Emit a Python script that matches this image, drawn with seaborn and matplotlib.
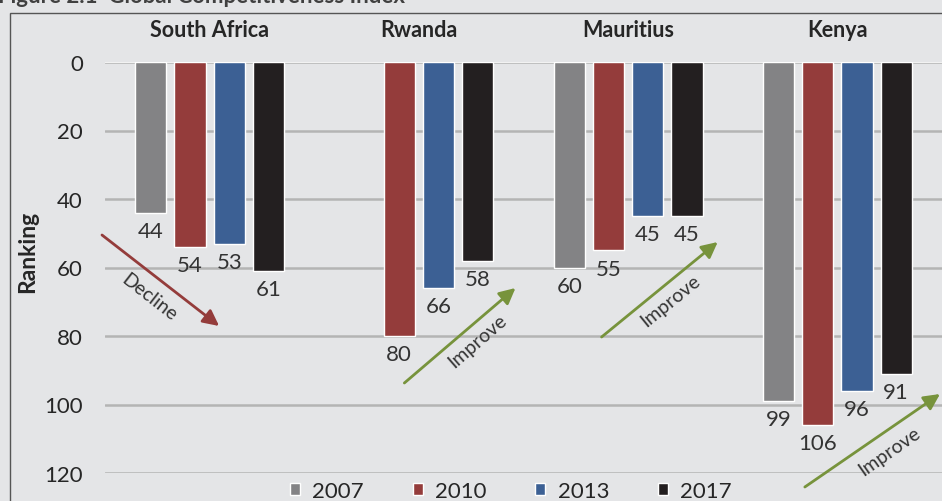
import pandas as pd
import matplotlib.pyplot as plt
from matplotlib.patches import Rectangle
import seaborn as sns

# Global Competitiveness Index ranking (lower = better)
countries = ["South Africa", "Rwanda", "Mauritius", "Kenya"]
years = ["2007", "2010", "2013", "2017"]
rank_2007 = [44, None, 60, 99]
rank_2010 = [54, 80, 55, 106]
rank_2013 = [53, 66, 45, 96]
rank_2017 = [61, 58, 45, 91]
y_ticks = [0, 20, 40, 60, 80, 100, 120]
colors = ["#838385", "#943c3b", "#3c6094", "#231f20"]

W, H = 942, 502
BG = "#e4e5e7"


def px(x, y):
    # image pixel -> data coords (category centres 209 px apart, 3.425 px per rank)
    return (x - 210.5) / 209.0, (y - 63) / 3.425


def style():
    sns.set_theme(style="white")
    plt.rcParams['font.family'] = ['Lato', 'DejaVu Sans']
    plt.rcParams['text.color'] = '#262626'


def get_df():
    rows = []
    for yr, vals in zip(years, [rank_2007, rank_2010, rank_2013, rank_2017]):
        for c, v in zip(countries, vals):
            rows.append({"country": c, "year": yr, "rank": v})
    return pd.DataFrame(rows).dropna()


style()
df = get_df()

fig = plt.figure(figsize=(W / 100, H / 100), dpi=100, facecolor=BG)
ax = fig.add_axes([105 / W, 1 - 474 / H, 1 - 105 / W, (474 - 63) / H])
ax.set_facecolor(BG)

sns.barplot(data=df, x="country", y="rank", hue="year", order=countries,
            hue_order=years, palette=colors, width=0.75, gap=0.2,
            saturation=1, ax=ax, zorder=3)

ax.set_xlim(-0.5, 3.5)
ax.set_ylim(120, 0)
ax.set_yticks(y_ticks)
ax.grid(axis='y', color='#b4b4b4', lw=1.8, zorder=0)
ax.axhline(0, color='white', lw=1.2, zorder=1)
for s in ax.spines.values():
    s.set_visible(False)

ax.xaxis.tick_top()
ax.tick_params(axis='x', length=0, pad=16, labelsize=15.5)
for t in ax.get_xticklabels():
    t.set_fontweight('bold')
ax.tick_params(axis='y', length=0, pad=16, labelsize=16)
ax.set_xlabel("")
ax.set_ylabel("Ranking", fontsize=16.5, fontweight='bold')
ax.yaxis.set_label_coords(-0.08, 0.54)

for cont in ax.containers:
    ax.bar_label(cont, fmt="%d", padding=6, fontsize=16, color='#333333')

# legend at the bottom
handles, labels = ax.get_legend_handles_labels()
ax.get_legend().remove()
fig.legend(handles, labels, loc='center', bbox_to_anchor=(511 / W, 1 - 492 / H),
           ncol=4, frameon=False, fontsize=16, handlelength=0.45, handleheight=0.45,
           handletextpad=0.55, columnspacing=2.2)

# trend arrows
arrows = [
    ((103, 236), (220, 327), (150, 298), "Decline", -38, "#943c3b"),
    ((405, 384), (516, 289), (478, 341), "Improve", 41, "#77933c"),
    ((602, 338), (718, 243), (671, 301), "Improve", 39, "#77933c"),
    ((805, 488), (940, 395), (890, 452), "Improve", 35, "#77933c"),
]
for start, end, txt_pos, txt, rot, col in arrows:
    ax.annotate("", xy=px(*end), xytext=px(*start), annotation_clip=False,
                arrowprops=dict(arrowstyle="-|>,head_length=0.8,head_width=0.4",
                                color=col, lw=2, shrinkA=0, shrinkB=0), zorder=5)
    tx, ty = px(*txt_pos)
    ax.text(tx, ty, txt, rotation=rot, rotation_mode='anchor', ha='center',
            va='center', fontsize=14, color='#333333', clip_on=False, zorder=5)

# chart frame and (cropped) figure title
fig.add_artist(Rectangle((10 / W, -0.1), 1.2, 1 - 14 / H + 0.1, transform=fig.transFigure,
                         fill=False, ec='#555555', lw=1))
fig.text(-0.002, 1 - 3 / H, "Figure 2.1  Global Competitiveness Index", fontsize=16,
         fontweight='bold', color='#404040', va='baseline')

fig.savefig("out.png", dpi=100, facecolor=BG)
